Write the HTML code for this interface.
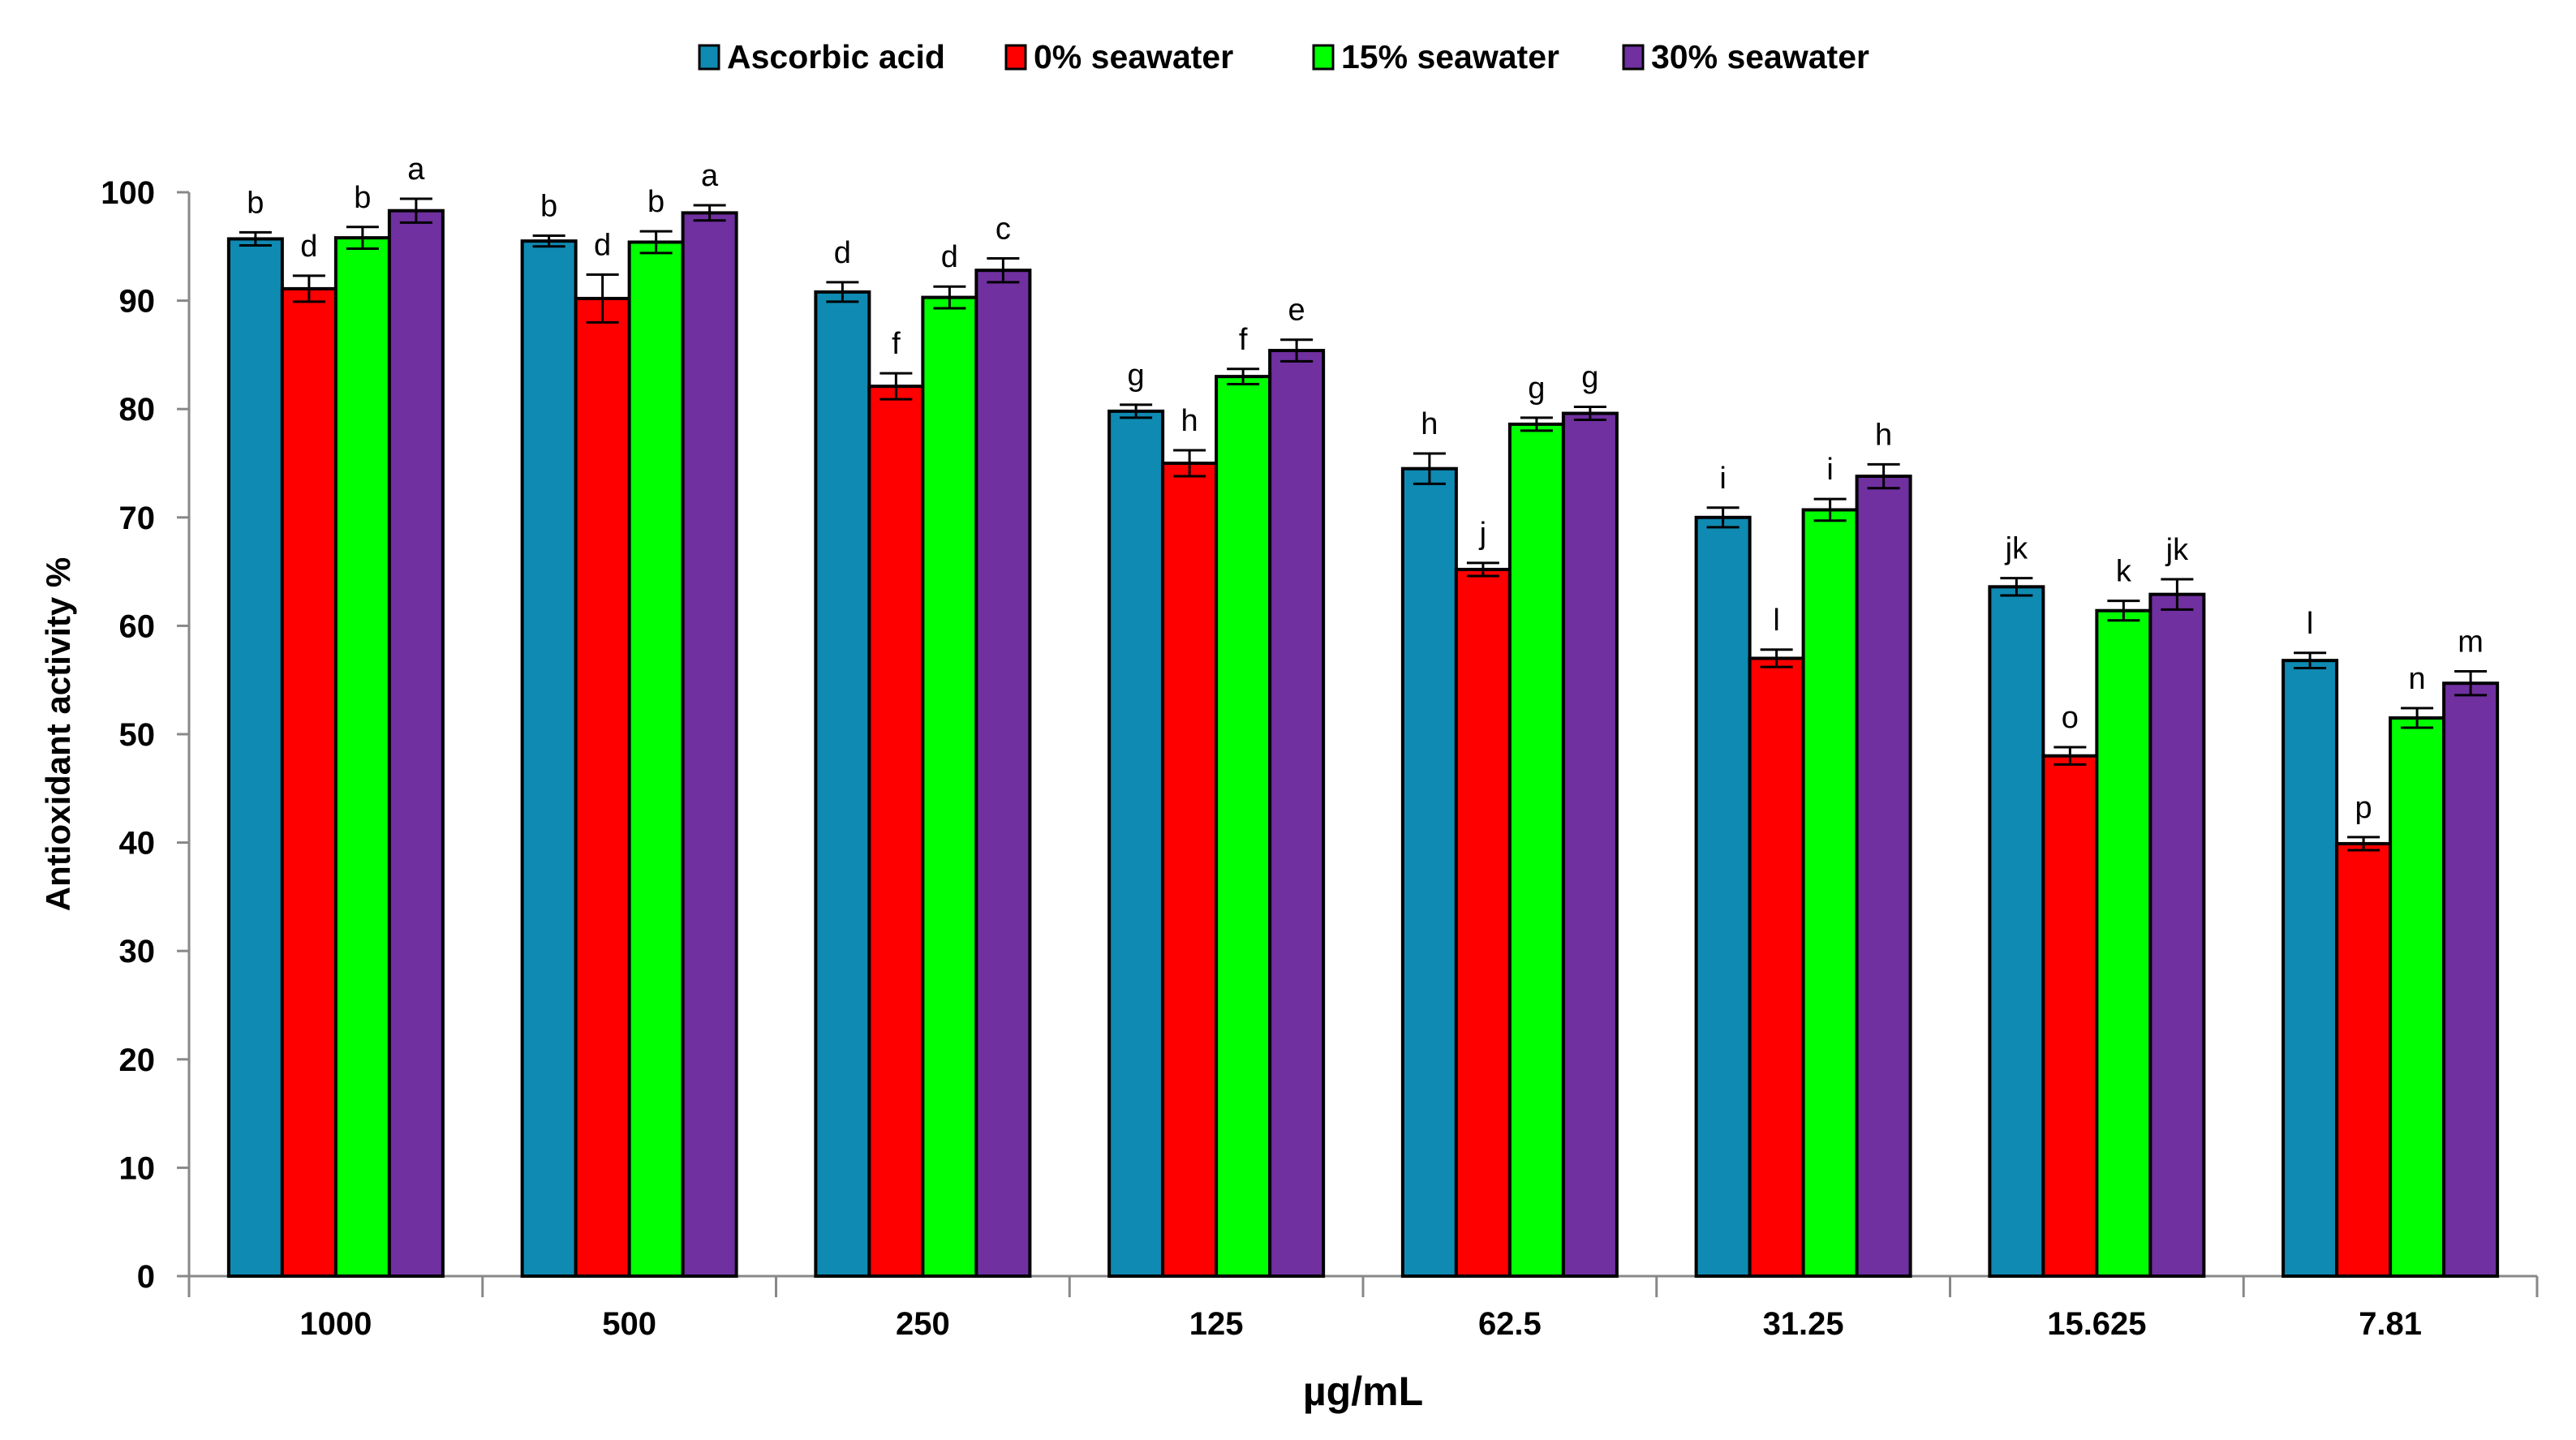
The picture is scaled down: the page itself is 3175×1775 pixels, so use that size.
<!DOCTYPE html>
<html><head><meta charset="utf-8"><style>
html,body{margin:0;padding:0;background:#fff;}
svg{display:block;font-family:"Liberation Sans",sans-serif;}
</style></head><body>
<svg id="chart" width="3175" height="1775" viewBox="0 0 3175 1775" xmlns="http://www.w3.org/2000/svg">
<g id="legend"></g>
<g id="axes"></g>
<g id="bars"></g>
<text x="1680" y="1732" font-size="50" font-weight="bold" text-anchor="middle">µg/mL</text>
<text transform="translate(86,905) rotate(-90)" font-size="42" font-weight="bold" text-anchor="middle">Antioxidant activity %</text>
</svg>
<script>
const categories = ["1000","500","250","125","62.5","31.25","15.625","7.81"];
const seriesNames = ["Ascorbic acid","0% seawater","15% seawater","30% seawater"];
const ascorbic = [95.7,95.5,90.8,79.8,74.5,70.0,63.6,56.8];
const sw0 = [91.1,90.2,82.1,75.0,65.2,57.0,48.0,39.9];
const sw15 = [95.8,95.4,90.3,83.0,78.6,70.7,61.4,51.5];
const sw30 = [98.3,98.1,92.8,85.4,79.6,73.8,62.9,54.7];
const errAscorbic = [0.6,0.5,0.9,0.6,1.4,0.9,0.8,0.7];
const err0 = [1.2,2.2,1.2,1.2,0.6,0.8,0.8,0.6];
const err15 = [1.0,1.0,1.0,0.7,0.6,1.0,0.9,0.9];
const err30 = [1.1,0.7,1.1,1.0,0.6,1.1,1.4,1.1];
const lettersAscorbic = ["b","b","d","g","h","i","jk","l"];
const letters0 = ["d","d","f","h","j","l","o","p"];
const letters15 = ["b","b","d","f","g","i","k","n"];
const letters30 = ["a","a","c","e","g","h","jk","m"];
const yTicks = [0,10,20,30,40,50,60,70,80,90,100];

const colors = ["#0f8ab2","#ff0000","#00ff00","#7030a0"];
const series = [ascorbic,sw0,sw15,sw30];
const errs = [errAscorbic,err0,err15,err30];
const letters = [lettersAscorbic,letters0,letters15,letters30];
const NS="http://www.w3.org/2000/svg";
const X0=233, X1=3127, Y0=1573, Y100=237;
const y = v => Y0 - (v/100)*(Y0-Y100);
const catW = (X1-X0)/categories.length;
const barW = 66;
const xBar = (c,s) => X0 + catW*c + catW/2 - 2*barW + s*barW;
function mk(tag,attrs,parent){const e=document.createElementNS(NS,tag);for(const k in attrs)e.setAttribute(k,attrs[k]);parent.appendChild(e);return e;}
const axes=document.getElementById('axes'), bars=document.getElementById('bars'), legend=document.getElementById('legend');

let l=mk('line',{x1:X0,y1:Y100,x2:X0,y2:Y0,stroke:'#888','stroke-width':3},axes);


yTicks.forEach(t=>{
  let tk=mk('line',{x1:X0-15,y1:y(t),x2:X0,y2:y(t),stroke:'#888','stroke-width':3},axes);
  
  
  let tx=mk('text',{x:X0-42,y:y(t)+14,'font-size':40,'font-weight':'bold','text-anchor':'end'},axes);
  tx.textContent=t;
  
  
});
l=mk('line',{x1:X0-15,y1:Y0,x2:X1,y2:Y0,stroke:'#888','stroke-width':3},axes);


for(let i=0;i<=categories.length;i++){
  let tk=mk('line',{x1:X0+catW*i,y1:Y0,x2:X0+catW*i,y2:Y0+26,stroke:'#888','stroke-width':3},axes);
  
  
}
categories.forEach((c,i)=>{
  let tx=mk('text',{x:X0+catW*i+catW/2,y:1645,'font-size':40,'font-weight':'bold','text-anchor':'middle'},axes);
  tx.textContent=c;
  
  
});
series.forEach((vals,s)=>{
  vals.forEach((v,c)=>{
    const x=xBar(c,s);
    let r=mk('rect',{x:x,y:y(v),width:barW,height:Y0-y(v),fill:colors[s],stroke:'#000','stroke-width':4},bars);
    
    
    const e=errs[s][c], cx=x+barW/2;
    let g=mk('path',{d:`M${cx} ${y(v+e)}V${y(v-e)}M${cx-20} ${y(v+e)}H${cx+20}M${cx-20} ${y(v-e)}H${cx+20}`,stroke:'#000','stroke-width':3,fill:'none'},bars);
    
    
    let t=mk('text',{x:cx,y:y(v+e)-24,'font-size':38,'text-anchor':'middle'},bars);
    t.textContent=letters[s][c];
    
    
  });
});
const legX=[862,1240,1619,2001];
seriesNames.forEach((n,i)=>{
  let r=mk('rect',{x:legX[i],y:56,width:24,height:29,fill:colors[i],stroke:'#000','stroke-width':3},legend);
  
  
  let t=mk('text',{x:legX[i]+34,y:84,'font-size':41,'font-weight':'bold'},legend);
  t.textContent=n;
  
  
});
</script>
</body></html>
